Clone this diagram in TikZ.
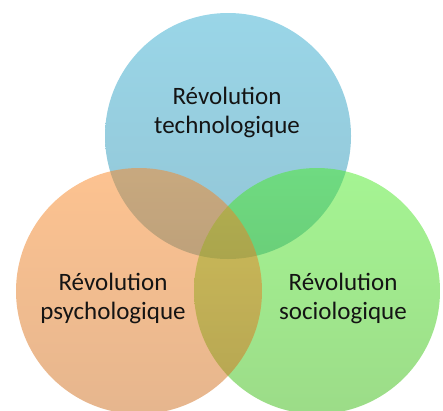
\documentclass[tikz,border=0pt]{standalone}
\usepackage{fontspec}
\setmainfont{Carlito}
\definecolor{bluetop}{RGB}{53,173,209}
\definecolor{bluebot}{RGB}{38,140,172}
\definecolor{orangetop}{RGB}{251,135,35}
\definecolor{orangebot}{RGB}{205,109,29}
\definecolor{greentop}{RGB}{75,235,39}
\definecolor{greenbot}{RGB}{57,185,17}
\definecolor{txt}{RGB}{20,20,20}
\tikzset{
  disc/.style={circle, draw=none, minimum size=246pt, inner sep=0pt, outer sep=0pt, fill opacity=0.5},
  lbl/.style={align=center, font=\fontsize{25}{29}\selectfont, text=txt, inner sep=0pt}
}
\begin{document}
\begin{tikzpicture}[x=1pt,y=-1pt]
\useasboundingbox (0,0) rectangle (443,410);
\node[disc, top color=bluetop, bottom color=bluebot] (tech) at (228,136) {};
\node[disc, top color=greentop, bottom color=greenbot] (soc) at (317,291) {};
\node[disc, top color=orangetop, bottom color=orangebot] (psy) at (139,291) {};
\node[lbl] (techl) at (227,112) {Révolution\\technologique};
\node[lbl] (psyl) at (113,298) {Révolution\\psychologique};
\node[lbl] (socl) at (343,298) {Révolution\\sociologique};
\end{tikzpicture}
\end{document}
